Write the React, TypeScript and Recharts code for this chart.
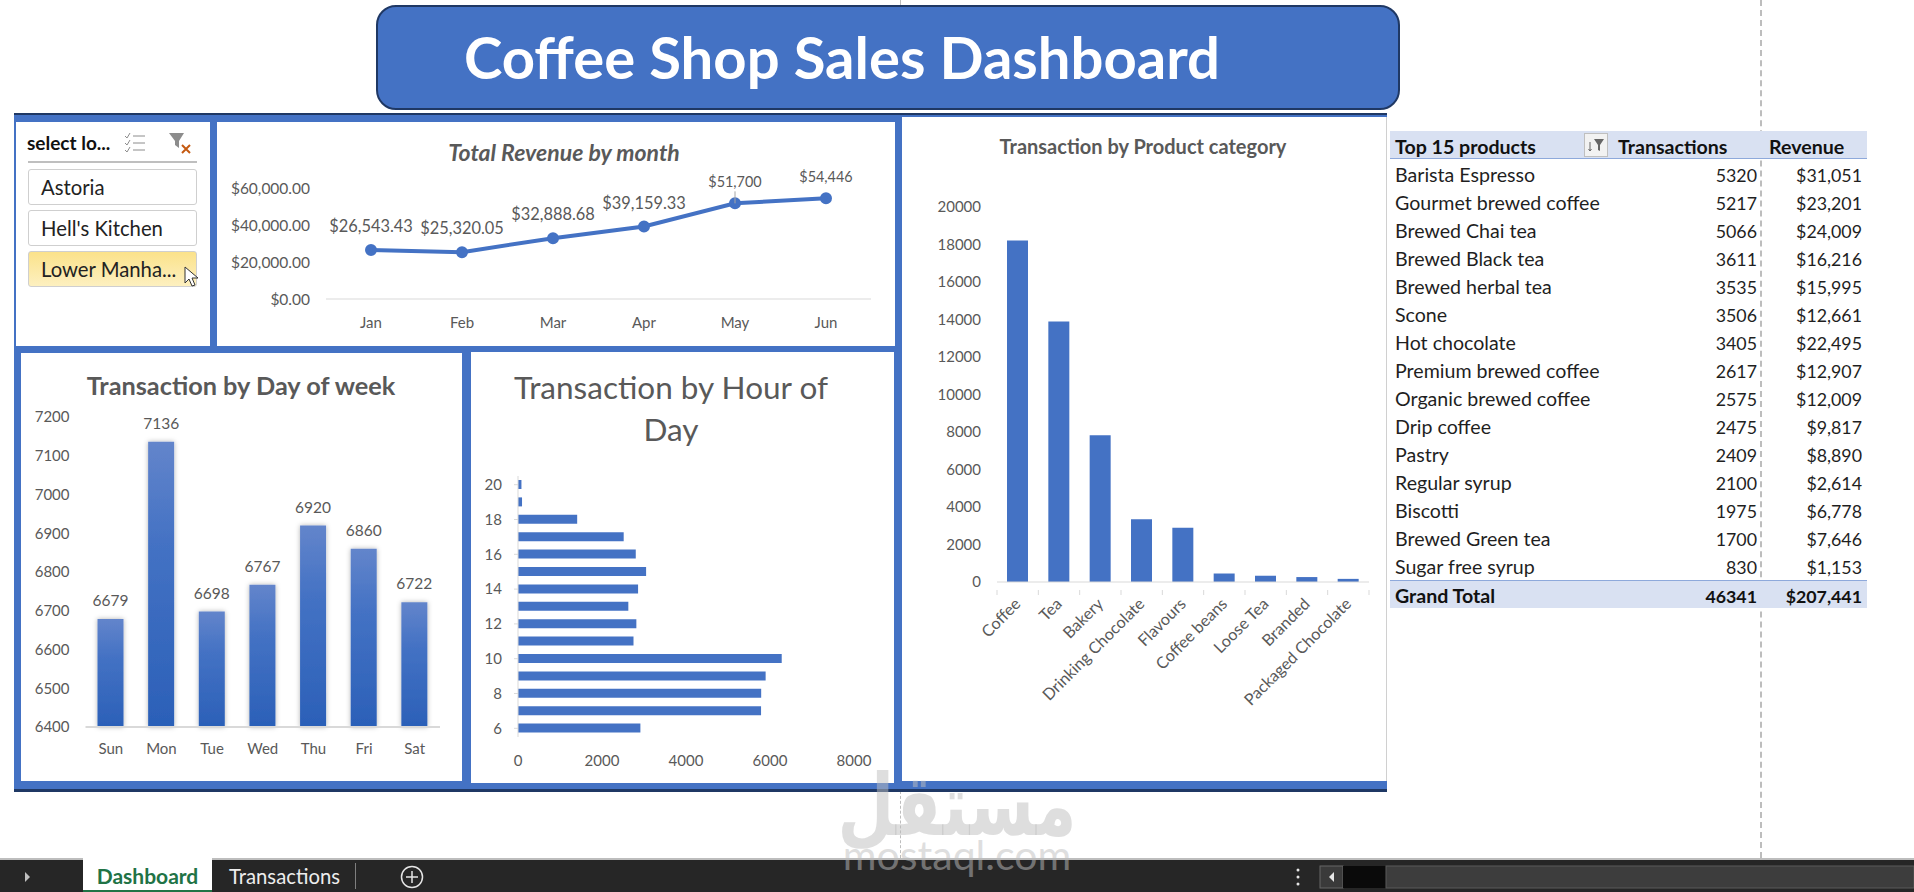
import { LineChart, Line, BarChart, Bar, XAxis, YAxis, LabelList } from "recharts";

const FONT = "Lato, sans-serif";
const BLUE = "#4472C4";
const GREY = "#595959";
const AXIS = "#D9D9D9";

const months = ["Jan", "Feb", "Mar", "Apr", "May", "Jun"];
const monthRevenue = [26543.43, 25320.05, 32888.68, 39159.33, 51700, 54446];
const monthLabels = ["$26,543.43", "$25,320.05", "$32,888.68", "$39,159.33", "$51,700", "$54,446"];
const revenueTicks = [0, 20000, 40000, 60000];

const days = ["Sun", "Mon", "Tue", "Wed", "Thu", "Fri", "Sat"];
const dayTransactions = [6679, 7136, 6698, 6767, 6920, 6860, 6722];
const dayTicks = [6400, 6500, 6600, 6700, 6800, 6900, 7000, 7100, 7200];

const hours = ["6", "7", "8", "9", "10", "11", "12", "13", "14", "15", "16", "17", "18", "19", "20"];
const hourTransactions = [2914, 5787, 5790, 5896, 6279, 2750, 2818, 2627, 2859, 3050, 2804, 2517, 1409, 96, 82];
const hourTicks = [0, 2000, 4000, 6000, 8000];

const categories = ["Coffee", "Tea", "Bakery", "Drinking Chocolate", "Flavours", "Coffee beans", "Loose Tea", "Branded", "Packaged Chocolate"];
const categoryTransactions = [18210, 13890, 7828, 3341, 2888, 453, 334, 263, 167];
const categoryTicks = [0, 2000, 4000, 6000, 8000, 10000, 12000, 14000, 16000, 18000, 20000];

const locations = ["Astoria", "Hell's Kitchen", "Lower Manha..."];

const products = ["Barista Espresso", "Gourmet brewed coffee", "Brewed Chai tea", "Brewed Black tea", "Brewed herbal tea", "Scone", "Hot chocolate", "Premium brewed coffee", "Organic brewed coffee", "Drip coffee", "Pastry", "Regular syrup", "Biscotti", "Brewed Green tea", "Sugar free syrup"];
const productTransactions = [5320, 5217, 5066, 3611, 3535, 3506, 3405, 2617, 2575, 2475, 2409, 2100, 1975, 1700, 830];
const productRevenue = ["$31,051", "$23,201", "$24,009", "$16,216", "$15,995", "$12,661", "$22,495", "$12,907", "$12,009", "$9,817", "$8,890", "$2,614", "$6,778", "$7,646", "$1,153"];

const monthData = months.map((month, i) => ({ month, revenue: monthRevenue[i] }));
const dayData = days.map((day, i) => ({ day, transactions: dayTransactions[i] }));
const hourData = hours.map((hour, i) => ({ hour, transactions: hourTransactions[i] }));
const categoryData = categories.map((category, i) => ({ category, transactions: categoryTransactions[i] }));

function Box({ x, y, w, h, style, children }: any) {
  return <div style={{ position: "absolute", left: x, top: y, width: w, height: h, ...style }}>{children}</div>;
}

function CenterText({ cx, cy, size, weight, italic, color, children }: any) {
  return (
    <div
      style={{
        position: "absolute",
        left: cx - 400,
        top: cy - 40,
        width: 800,
        height: 80,
        lineHeight: "80px",
        textAlign: "center",
        fontSize: size,
        fontWeight: weight,
        fontStyle: italic ? "italic" : "normal",
        color,
        whiteSpace: "nowrap",
      }}
    >
      {children}
    </div>
  );
}

function RevenueLabel({ x, y, index }: any) {
  const late = index >= 4;
  return (
    <g>
      {index === 4 && <line x1={x} x2={x} y1={y - 12} y2={y} stroke="#A6A6A6" />}
      <text x={x} y={y - (late ? 20 : 22)} textAnchor="middle" dominantBaseline="middle" fontSize={late ? 14.4 : 16.4} fill={GREY}>
        {monthLabels[index]}
      </text>
    </g>
  );
}

function CategoryTick({ x, y, payload, index }: any) {
  const band = 372 / categories.length;
  return (
    <g>
      <line x1={x - band / 2} x2={x - band / 2} y1={y} y2={y + 5} stroke={AXIS} />
      {index === categories.length - 1 && <line x1={x + band / 2} x2={x + band / 2} y1={y} y2={y + 5} stroke={AXIS} />}
      <text x={x + 4} y={y + 15} textAnchor="end" fontSize={16.2} fill={GREY} transform={`rotate(-45 ${x + 4} ${y + 15})`}>
        {payload.value}
      </text>
    </g>
  );
}

function Slicer() {
  return (
    <Box x={16} y={122} w={194} h={224} style={{ background: "#fff" }}>
      <div style={{ position: "absolute", left: 11, top: 10, fontSize: 19, fontWeight: 700, color: "#111", lineHeight: "22px", whiteSpace: "nowrap" }}>select lo...</div>
      <svg style={{ position: "absolute", left: 108, top: 8 }} width={80} height={30}>
        <g stroke="#8C8C8C" fill="none">
          <path d="M1 6l2 2 3-5M1 13l2 2 3-5M1 20l2 2 3-5" />
          <path d="M9 6h12M9 13h12M9 20h12" />
        </g>
        <path d="M45 3h15l-5 8v7l-4-3v-4z" fill="#8C8C8C" />
        <path d="M58 15l8 8M66 15l-8 8" stroke="#C55A11" strokeWidth={2} />
      </svg>
      <div style={{ position: "absolute", left: 12, top: 39, width: 169, height: 2, background: "#BFBFBF" }} />
      {locations.map((name, i) => (
        <div
          key={name}
          style={{
            position: "absolute",
            left: 12,
            top: 47 + i * 41,
            width: 155,
            height: 34,
            border: "1px solid #CFCFCF",
            borderRadius: 3,
            background: i === 2 ? "linear-gradient(#FBE28A, #FDF0C0)" : "#fff",
            fontSize: 20.3,
            lineHeight: "34px",
            paddingLeft: 12,
            color: "#222",
            whiteSpace: "nowrap",
          }}
        >
          {name}
        </div>
      ))}
      <svg style={{ position: "absolute", left: 166, top: 143 }} width={20} height={24}>
        <path d="M3 2v16l4-4 3 7 3-1-3-7h6z" fill="#fff" stroke="#333" />
      </svg>
    </Box>
  );
}

function RevenueChart() {
  return (
    <Box x={217} y={122} w={678} h={224} style={{ background: "#fff" }}>
      <CenterText cx={347} cy={30} size={23} weight={700} italic color={GREY}>Total Revenue by month</CenterText>
      <LineChart width={678} height={224} data={monthData} margin={{ top: 66, right: 24, bottom: 0, left: 0 }}>
        <XAxis dataKey="month" height={47} padding={{ left: 45, right: 45 }} axisLine={{ stroke: AXIS }} tickLine={false} tickMargin={12} tick={{ fontSize: 15, fill: GREY }} />
        <YAxis width={109} domain={[0, 60000]} ticks={revenueTicks} axisLine={false} tickLine={false} tickMargin={10} tick={{ fontSize: 15.5, fill: GREY }} tickFormatter={(v: number) => `$${v.toLocaleString("en-US")}.00`} />
        <Line dataKey="revenue" stroke={BLUE} strokeWidth={4} dot={{ r: 4, fill: BLUE, stroke: BLUE }} isAnimationActive={false}>
          <LabelList content={<RevenueLabel />} />
        </Line>
      </LineChart>
    </Box>
  );
}

function DayChart() {
  return (
    <Box x={21} y={353} w={441} h={428} style={{ background: "#fff" }}>
      <CenterText cx={220} cy={32} size={25.3} weight={700} color={GREY}>Transaction by Day of week</CenterText>
      <BarChart width={441} height={428} data={dayData} margin={{ top: 64, right: 22, bottom: 0, left: 0 }} barCategoryGap={0}>
        <defs>
          <linearGradient id="dayFill" x1="0" y1="0" x2="0" y2="1">
            <stop offset="0" stopColor="#6385CB" />
            <stop offset="0.35" stopColor="#4472C4" />
            <stop offset="1" stopColor="#2B60B8" />
          </linearGradient>
          <filter id="dayShadow" x="-40%" y="-10%" width="180%" height="120%">
            <feGaussianBlur in="SourceAlpha" stdDeviation="2.5" result="blur" />
            <feFlood floodColor="#000" floodOpacity="0.3" />
            <feComposite in2="blur" operator="in" />
            <feMerge>
              <feMergeNode />
              <feMergeNode in="SourceGraphic" />
            </feMerge>
          </filter>
        </defs>
        <XAxis dataKey="day" height={54} axisLine={{ stroke: AXIS, strokeWidth: 2 }} tickLine={false} tickMargin={10} tick={{ fontSize: 15, fill: GREY }} />
        <YAxis width={64.5} domain={[6400, 7200]} ticks={dayTicks} interval={0} axisLine={false} tickLine={false} tickMargin={10} tick={{ fontSize: 15, fill: GREY }} />
        <Bar dataKey="transactions" fill="url(#dayFill)" barSize={26} isAnimationActive={false} style={{ filter: "url(#dayShadow)" }}>
          <LabelList dataKey="transactions" position="top" offset={13} fontSize={15.5} fill={GREY} />
        </Bar>
      </BarChart>
    </Box>
  );
}

function HourChart() {
  return (
    <Box x={471} y={352} w={423} h={431} style={{ background: "#fff" }}>
      <CenterText cx={200} cy={35} size={31.5} color={GREY}>Transaction by Hour of</CenterText>
      <CenterText cx={200} cy={77} size={31.5} color={GREY}>Day</CenterText>
      <BarChart width={423} height={431} data={hourData} layout="vertical" margin={{ top: 124, right: 40, bottom: 0, left: 0 }}>
        <XAxis type="number" height={46} domain={[0, 8000]} ticks={hourTicks} axisLine={false} tickLine={false} tickMargin={12} tick={{ fontSize: 15, fill: GREY }} />
        <YAxis type="category" dataKey="hour" width={47} reversed interval={1} axisLine={{ stroke: AXIS }} tickSize={4} tickMargin={12} tickLine={{ stroke: AXIS }} tick={{ fontSize: 15, fill: GREY }} />
        <Bar dataKey="transactions" fill={BLUE} barSize={9} isAnimationActive={false} />
      </BarChart>
    </Box>
  );
}

function CategoryChart() {
  return (
    <Box x={902} y={117} w={485} h={664} style={{ background: "#fff", borderRight: "1px solid #D0D0D0", boxSizing: "border-box" }}>
      <CenterText cx={241} cy={29} size={20} weight={700} color={GREY}>Transaction by Product category</CenterText>
      <BarChart width={484} height={664} data={categoryData} margin={{ top: 90, right: 17, bottom: 0, left: 0 }}>
        <XAxis dataKey="category" height={199} interval={0} axisLine={{ stroke: AXIS }} tickLine={false} tick={<CategoryTick />} />
        <YAxis width={95} domain={[0, 20000]} ticks={categoryTicks} interval={0} axisLine={false} tickLine={false} tickMargin={10} tick={{ fontSize: 15, fill: GREY }} />
        <Bar dataKey="transactions" fill={BLUE} barSize={21} isAnimationActive={false} />
      </BarChart>
    </Box>
  );
}

function Cell({ x, y, w, align, bold, color, size, children }: any) {
  return (
    <div
      style={{
        position: "absolute",
        left: x,
        top: y,
        width: w,
        height: 28,
        lineHeight: "28px",
        fontSize: size || 19.6,
        fontWeight: bold ? 700 : 400,
        textAlign: align || "left",
        color: color || "#1F1F1F",
        whiteSpace: "nowrap",
      }}
    >
      {children}
    </div>
  );
}

function ProductTable() {
  const bandStyle = { background: "#D9E1F2" };
  return (
    <>
      <Box x={1390} y={131} w={477} h={28} style={{ ...bandStyle, borderBottom: "1px solid #8EA9DB", boxSizing: "border-box" }} />
      <Box x={1390} y={580} w={477} h={28} style={{ ...bandStyle, borderTop: "1px solid #8EA9DB", boxSizing: "border-box" }} />
      <Cell x={1395} y={133} w={200} bold color="#111">Top 15 products</Cell>
      <Cell x={1618} y={133} w={130} bold color="#111">Transactions</Cell>
      <Cell x={1769} y={133} w={90} bold color="#111">Revenue</Cell>
      <Box x={1584} y={133} w={24} h={24} style={{ background: "#F2F2F2", border: "1px solid #BFBFBF", boxSizing: "border-box" }}>
        <svg width={22} height={22}>
          <path d="M9 5h10l-4 6v6l-2-1v-5z" fill="#666" />
          <path d="M5 8v9M3.5 15l1.5 2 1.5-2" stroke="#666" fill="none" />
        </svg>
      </Box>
      {products.map((name, i) => (
        <div key={name}>
          <Cell x={1395} y={161 + i * 28} w={260}>{name}</Cell>
          <Cell x={1657} y={161 + i * 28} w={100} align="right" size={17.8}>{productTransactions[i]}</Cell>
          <Cell x={1765} y={161 + i * 28} w={97} align="right" size={17.8}>{productRevenue[i]}</Cell>
        </div>
      ))}
      <Cell x={1395} y={582} w={200} bold color="#111">Grand Total</Cell>
      <Cell x={1657} y={582} w={100} align="right" bold color="#111" size={17.8}>46341</Cell>
      <Cell x={1765} y={582} w={97} align="right" bold color="#111" size={17.8}>$207,441</Cell>
    </>
  );
}

function SheetTabs() {
  return (
    <>
      <Box x={0} y={858} w={1914} h={34} style={{ background: "#262626", borderTop: "2px solid #BDBDBD", boxSizing: "border-box" }} />
      <Box x={83} y={858} w={129} h={34} style={{ background: "#fff", borderBottom: "2px solid #217346", boxSizing: "border-box", textAlign: "center", lineHeight: "36px", fontSize: 21, fontWeight: 700, color: "#217346" }}>Dashboard</Box>
      <Box x={229} y={860} w={112} h={32} style={{ lineHeight: "32px", fontSize: 20.3, color: "#EDEDED", whiteSpace: "nowrap" }}>Transactions</Box>
      <Box x={355} y={863} w={1} h={26} style={{ background: "#7F7F7F" }} />
      <svg style={{ position: "absolute", left: 0, top: 860 }} width={1914} height={32}>
        <path d="M25 12l5 5-5 5z" fill="#BFBFBF" />
        <circle cx={412} cy={17} r={10.5} fill="none" stroke="#E5E5E5" strokeWidth={1.5} />
        <path d="M406 17h12M412 11v12" stroke="#E5E5E5" strokeWidth={1.5} />
        <circle cx={1298} cy={10} r={1.5} fill="#E5E5E5" />
        <circle cx={1298} cy={17} r={1.5} fill="#E5E5E5" />
        <circle cx={1298} cy={24} r={1.5} fill="#E5E5E5" />
        <rect x={1320} y={6} width={23} height={22} fill="#3A3A3A" stroke="#666" />
        <path d="M1334 12l-5 5 5 5z" fill="#E5E5E5" />
        <rect x={1343} y={6} width={43} height={22} fill="#0A0A0A" />
        <rect x={1386} y={6} width={528} height={22} fill="#3D3D3D" stroke="#5A5A5A" />
      </svg>
    </>
  );
}

function Watermark() {
  return (
    <div style={{ position: "absolute", left: 842, top: 760, width: 230, height: 110, color: "rgba(190,190,190,0.5)", textAlign: "center", pointerEvents: "none" }}>
      <div style={{ position: "absolute", left: -60, top: 0, width: 350, lineHeight: "90px", fontSize: 86, fontWeight: 700, fontFamily: "DejaVu Sans", transform: "scaleX(0.76)" }}>مستقل</div>
      <div style={{ position: "absolute", left: -20, top: 80, width: 270, lineHeight: "30px", fontSize: 41, fontFamily: FONT }}>mostaql.com</div>
    </div>
  );
}

export default function App() {
  return (
    <div style={{ position: "absolute", left: 0, top: 0, width: 1914, height: 892, overflow: "hidden", background: "#fff", fontFamily: FONT }}>
      <Box x={900} y={0} w={1} h={6} style={{ background: "#BDBDBD" }} />
      <Box x={900} y={791} w={0} h={67} style={{ borderLeft: "1px dashed #BDBDBD" }} />
      <Box x={1760} y={0} w={0} h={858} style={{ borderLeft: "2px dashed #BDBDBD" }} />
      <Box x={376} y={5} w={1024} h={105} style={{ background: BLUE, border: "2px solid #1F3864", borderRadius: 20, boxSizing: "border-box" }} />
      <CenterText cx={842} cy={57} size={58} weight={700} color="#fff">Coffee Shop Sales Dashboard</CenterText>
      <Box x={14} y={113} w={1373} h={679} style={{ background: BLUE, borderTop: "2px solid #1F3864", borderBottom: "3px solid #1F3864", boxSizing: "border-box" }} />
      <Slicer />
      <RevenueChart />
      <DayChart />
      <HourChart />
      <CategoryChart />
      <ProductTable />
      <SheetTabs />
      <Watermark />
    </div>
  );
}
